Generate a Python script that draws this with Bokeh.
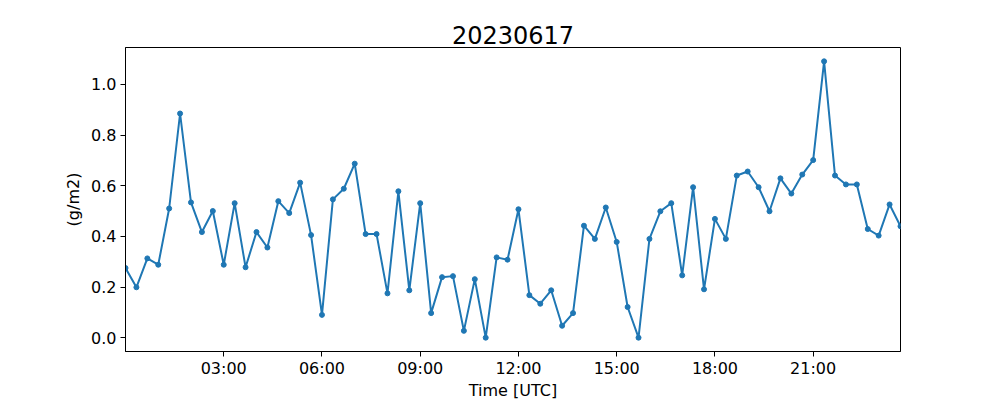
import pandas as pd
from bokeh.plotting import figure
from bokeh.models import FixedTicker, DatetimeTickFormatter, Range1d, NumeralTickFormatter
from bokeh.embed import file_html
from bokeh.resources import INLINE

title_text = "20230617"
x_label = "Time [UTC]"
y_label = "(g/m2)"

# 20-minute samples from 00:00 to 23:40 UTC
times = pd.date_range("2023-06-17 00:00", "2023-06-17 23:40", freq="20min")

values = [
    0.275, 0.199, 0.313, 0.288, 0.510, 0.885, 0.534, 0.417, 0.500, 0.288,
    0.531, 0.278, 0.417, 0.356, 0.539, 0.492, 0.612, 0.405, 0.090, 0.546,
    0.588, 0.687, 0.409, 0.409, 0.175, 0.578, 0.187, 0.531, 0.097, 0.239,
    0.243, 0.027, 0.231, 0.000, 0.317, 0.308, 0.507, 0.168, 0.134, 0.187,
    0.047, 0.097, 0.442, 0.390, 0.514, 0.378, 0.121, 0.000, 0.390, 0.499,
    0.531, 0.246, 0.594, 0.191, 0.469, 0.390, 0.640, 0.656, 0.594, 0.499,
    0.629, 0.569, 0.644, 0.701, 1.091, 0.640, 0.605, 0.605, 0.429, 0.403,
    0.526, 0.440,
]

x_tick_hours = [3, 6, 9, 12, 15, 18, 21]
y_ticks = [0.0, 0.2, 0.4, 0.6, 0.8, 1.0]

color = "#1f77b4"
font = "DejaVu Sans"

t0 = times[0]
xmin = times[0]
xmax = times[-1]
vmin, vmax = min(values), max(values)
pad = (vmax - vmin) * 0.05

p = figure(
    width=1000, height=400,
    frame_width=775, frame_height=304,
    min_border_left=125, min_border_right=100, min_border_top=47, min_border_bottom=49,
    x_axis_type="datetime",
    output_backend="svg", toolbar_location=None,
    x_range=Range1d(xmin, xmax), y_range=Range1d(vmin - pad, vmax + pad),
    title=title_text,
)

p.line(times, values, line_color=color, line_width=2)
p.scatter(times, values, size=5, fill_color=color, line_color=color)

tick_ms = [(t0 + pd.Timedelta(hours=h)).timestamp() * 1000 for h in x_tick_hours]
p.xaxis.ticker = FixedTicker(ticks=tick_ms)
p.xaxis.formatter = DatetimeTickFormatter(hours="%H:%M", days="%H:%M", months="%H:%M", years="%H:%M", minutes="%H:%M")
p.yaxis.ticker = FixedTicker(ticks=y_ticks)
p.yaxis.formatter = NumeralTickFormatter(format="0.0")

p.xaxis.axis_label = x_label
p.yaxis.axis_label = y_label

for ax in (p.xaxis[0], p.yaxis[0]):
    ax.major_label_text_font = font
    ax.major_label_text_font_size = "16px"
    ax.major_label_text_color = "black"
    ax.axis_label_text_font = font
    ax.axis_label_text_font_size = "16px"
    ax.axis_label_text_font_style = "normal"
    ax.axis_label_text_color = "black"
    ax.axis_line_color = "black"
    ax.major_tick_line_color = "black"
    ax.major_tick_out = 5
    ax.major_tick_in = 0
    ax.minor_tick_out = 0
    ax.minor_tick_in = 0
    ax.major_label_standoff = 4

p.xaxis.major_label_standoff = 2
p.xaxis.axis_label_standoff = 0
p.yaxis.axis_label_standoff = 5

p.title.text_font = font
p.title.text_font_size = "24px"
p.title.text_font_style = "normal"
p.title.align = "center"
p.title.text_color = "black"
p.title.offset = 0
p.title.standoff = 8

p.xgrid.visible = False
p.ygrid.visible = False
p.outline_line_color = "black"
p.outline_line_width = 1
p.background_fill_color = "white"
p.border_fill_color = "white"

open("out.html", "w").write(file_html(p, INLINE))
